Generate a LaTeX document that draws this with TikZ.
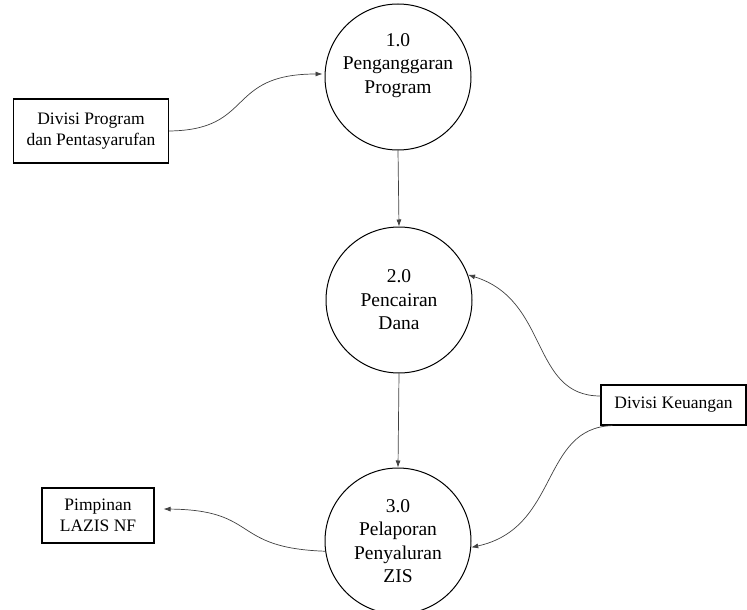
\documentclass[tikz,border=0pt]{standalone}
\usepackage{fontspec}
\setmainfont{Liberation Serif}
\usetikzlibrary{arrows.meta}
\begin{document}
\begin{tikzpicture}[x=1pt,y=-1pt,
  proc/.style={circle,draw=black,line width=1pt,minimum size=146pt,inner sep=0pt,align=center,
    font=\fontsize{19.5}{23.5}\selectfont},
  ext/.style={rectangle,draw=black,line width=1.1pt,align=center,inner sep=0pt,
    font=\fontsize{17.5}{21}\selectfont},
  flow/.style={draw=black!75,line width=0.7pt,-{Latex[length=7pt,width=5pt]}}]
\useasboundingbox (0,0) rectangle (747,610);
\node[proc] (p1) at (398,77) {1.0\\Penganggaran\\Program\\[4pt]};
\node[proc] (p2) at (399,300) {2.0\\Pencairan\\Dana};
\node[proc] (p3) at (398,541) {3.0\\Pelaporan\\Penyaluran\\ZIS};
\node[ext,minimum width=155pt,minimum height=64pt] (dp) at (91,131) {Divisi Program\\dan Pentasyarufan};
\node[ext,minimum width=145pt,minimum height=40pt] (dk) at (673.5,405) {Divisi Keuangan};
\node[ext,minimum width=112pt,minimum height=55pt] (pl) at (98,515.5) {Pimpinan\\LAZIS NF};
\coordinate (a1) at (dp.east);
\coordinate (k1) at ([yshift=9pt]dk.west);
\coordinate (k2) at ([xshift=12pt]dk.south west);
\draw[flow] (a1) .. controls (255,130) and (225,74) .. ([xshift=-2pt]p1.west |- 0,74);
\draw[flow] (p1.south) -- (p2.north);
\draw[flow] (p2.south) -- (p3.north);
\draw[flow] (k1) .. controls (530,396) and (550,300) .. (p2.20);
\draw[flow] (k2) .. controls (540,428) and (560,528) .. (p3.-5);
\draw[flow] (p3.188) .. controls (230,548) and (260,510) .. ([xshift=9pt]pl.east |- 0,509);
\end{tikzpicture}
\end{document}
